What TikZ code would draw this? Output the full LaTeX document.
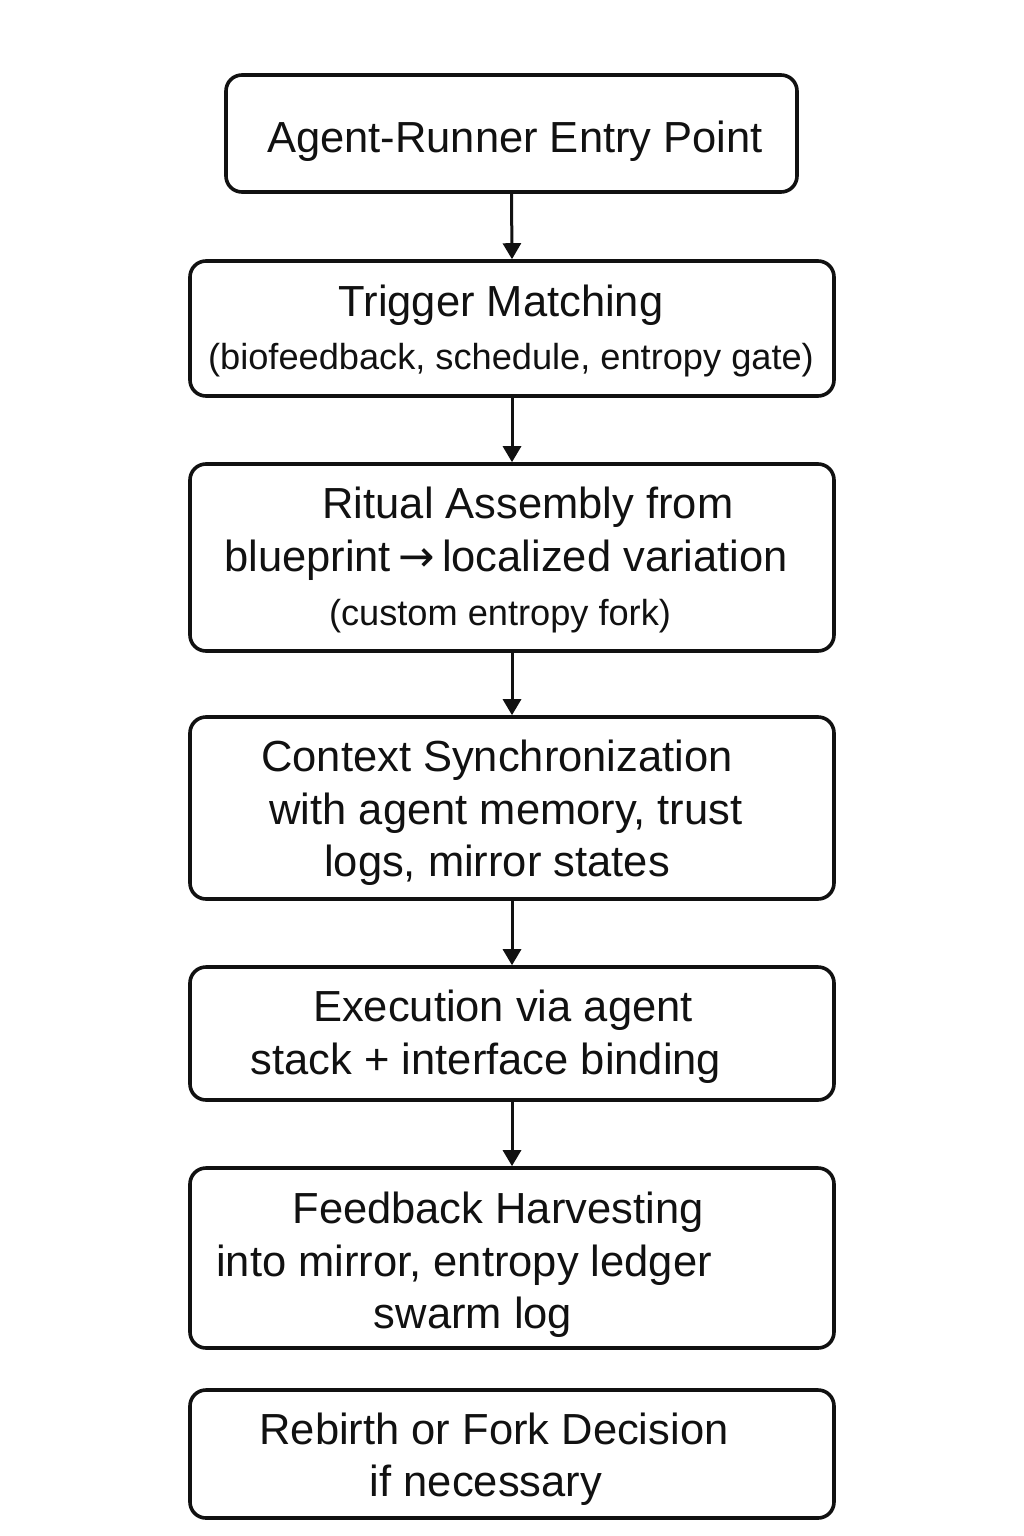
\documentclass[tikz,border=0pt]{standalone}
\usepackage{fontspec}
\setmainfont{Liberation Sans}
\newfontfamily\symfont{DejaVu Sans}
\usetikzlibrary{arrows.meta}
\definecolor{ink}{HTML}{111111}
\tikzset{
  box/.style={draw=ink, line width=3.6pt, rounded corners=16pt, fill=white, inner sep=0pt},
  big/.style={text=ink, inner sep=0pt, anchor=base, font=\fontsize{43.5}{50}\selectfont},
  small/.style={text=ink, inner sep=0pt, anchor=base, font=\fontsize{36.2}{42}\selectfont},
  arr/.style={draw=ink, line width=3pt, -{Triangle[length=16pt,width=18pt]}}
}
\begin{document}
\begin{tikzpicture}[x=1pt,y=-1pt]
\path[use as bounding box, fill=white] (0,0) rectangle (1024,1536);
% boxes
\node[box, minimum width=571pt, minimum height=117pt] (b1) at (511.5,133.5) {};
\node[box, minimum width=644pt, minimum height=135pt] (b2) at (512,328.5) {};
\node[box, minimum width=644pt, minimum height=187pt] (b3) at (512,557.5) {};
\node[box, minimum width=644pt, minimum height=182pt] (b4) at (512,808) {};
\node[box, minimum width=644pt, minimum height=133pt] (b5) at (512,1033.5) {};
\node[box, minimum width=644pt, minimum height=180pt] (b6) at (512,1258) {};
\node[box, minimum width=644pt, minimum height=128pt] (b7) at (512,1454) {};
% texts
\node[big] (t1) at (515,152) {Agent-Runner Entry Point};
\node[big] (t2a) at (501,316) {Trigger Matching};
\node[small] (t2b) at (511,369) {(biofeedback, schedule, entropy gate)};
\node[big] (t3a) at (528,518) {Ritual Assembly from};
\node[big] (t3b) at (506,571) {blueprint\,{\symfont →}\,localized variation};
\node[small] (t3c) at (500,625) {(custom entropy fork)};
\node[big] (t4a) at (497,771) {Context Synchronization};
\node[big] (t4b) at (506,824) {with agent memory, trust};
\node[big] (t4c) at (497,876) {logs, mirror states};
\node[big] (t5a) at (503,1021) {Execution via agent};
\node[big] (t5b) at (486,1074) {stack + interface binding};
\node[big] (t6a) at (498,1223) {Feedback Harvesting};
\node[big] (t6b) at (464,1276) {into mirror, entropy ledger};
\node[big] (t6c) at (473,1328) {swarm log};
\node[big] (t7a) at (494,1444) {Rebirth or Fork Decision};
\node[big] (t7b) at (486,1496) {if necessary};
% connectors
\draw[arr] (b1.south) -- (b2.north);
\draw[arr] (b2.south) -- (b3.north);
\draw[arr] (b3.south) -- (b4.north);
\draw[arr] (b4.south) -- (b5.north);
\draw[arr] (b5.south) -- (b6.north);
\end{tikzpicture}
\end{document}
